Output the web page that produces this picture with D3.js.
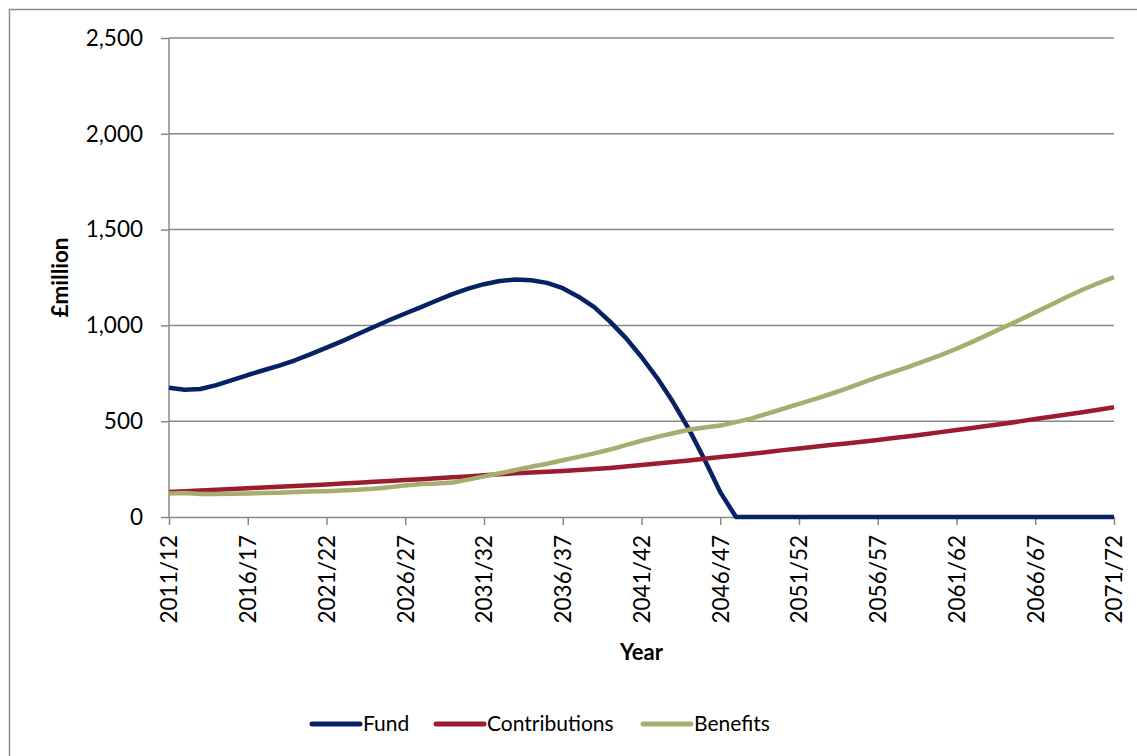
<!DOCTYPE html>
<html>
<head>
<meta charset="utf-8">
<script src="https://cdn.jsdelivr.net/npm/d3@7"></script>
<style>
  html, body { margin: 0; padding: 0; background: #fff; }
  svg { display: block; }
  text { font-family: Lato, "Open Sans", sans-serif; fill: #000; }
</style>
</head>
<body>
<svg id="chart" width="1137" height="756"></svg>
<script>
// Financial years 2011/12 .. 2071/72
const years = d3.range(2011, 2072).map(y => `${y}/${String((y + 1) % 100).padStart(2, "0")}`);

// £ million
const fund = [
  675, 664, 668, 688, 714, 741, 766, 790, 818, 850,
  884, 918, 955, 992, 1028, 1062, 1095, 1130, 1163, 1192,
  1215, 1232, 1239, 1236, 1222, 1194, 1150, 1095, 1020, 935,
  835, 725, 600, 460, 300, 130, 0, 0, 0, 0,
  0, 0, 0, 0, 0, 0, 0, 0, 0, 0,
  0, 0, 0, 0, 0, 0, 0, 0, 0, 0,
  0
];
const contributions = [
  130, 134, 138, 142, 146, 150, 154, 158, 162, 166,
  170, 175, 179, 184, 188, 193, 197, 202, 207, 212,
  218, 223, 228, 232, 236, 240, 245, 250, 256, 263,
  271, 279, 287, 295, 304, 313, 321, 330, 339, 349,
  358, 367, 376, 384, 393, 402, 412, 422, 432, 443,
  454, 465, 476, 487, 499, 511, 523, 535, 547, 560,
  573
];
const benefits = [
  123, 125, 120, 120, 121, 123, 125, 127, 130, 133,
  135, 138, 142, 148, 155, 165, 172, 175, 180, 195,
  212, 228, 245, 262, 278, 296, 314, 332, 352, 375,
  398, 418, 437, 455, 467, 477, 495, 515, 540, 565,
  590, 615, 642, 670, 700, 730, 757, 785, 815, 845,
  878, 914, 952, 990, 1028, 1068, 1108, 1148, 1186, 1220,
  1252
];

const seriesNames = ["Fund", "Contributions", "Benefits"];
const seriesColors = ["#062264", "#9b1c2e", "#a6ad6e"];
const seriesData = [fund, contributions, benefits];
const yTicks = [0, 500, 1000, 1500, 2000, 2500];

const svg = d3.select("#chart");
const plotLeft = 169, plotRight = 1114, plotTop = 38, plotBottom = 517;

// outer chart frame
svg.append("rect")
  .attr("x", 9.5).attr("y", 9.5)
  .attr("width", 2000).attr("height", 2000)
  .attr("fill", "none").attr("stroke", "#8a8a8a").attr("stroke-width", 1.5);

const x = d3.scalePoint().domain(years).range([plotLeft, plotRight]);
const y = d3.scaleLinear().domain([0, 2500]).range([plotBottom, plotTop]);

// horizontal gridlines
svg.append("g").selectAll("line")
  .data(yTicks.filter(d => d > 0))
  .join("line")
  .attr("x1", plotLeft).attr("x2", plotRight)
  .attr("y1", d => y(d)).attr("y2", d => y(d))
  .attr("stroke", "#888").attr("stroke-width", 1.5);

// y axis
const yAxis = svg.append("g")
  .attr("transform", `translate(${plotLeft},0)`)
  .call(d3.axisLeft(y).tickValues(yTicks).tickSize(8).tickPadding(18)
    .tickFormat(d3.format(",")));
yAxis.selectAll("path, line").attr("stroke", "#888").attr("stroke-width", 1.5);
yAxis.select(".domain").attr("d", `M0,${plotTop}V${plotBottom}`);
yAxis.selectAll("text").attr("font-size", 22.5).attr("font-family", "Lato").attr("fill", "#000");

// x axis
const labelYears = years.filter((d, i) => i % 5 === 0);
const xAxis = svg.append("g")
  .attr("transform", `translate(0,${plotBottom})`)
  .call(d3.axisBottom(x).tickValues(labelYears).tickSize(8).tickSizeOuter(0));
xAxis.selectAll("path, line").attr("stroke", "#888").attr("stroke-width", 1.5);
xAxis.selectAll("text")
  .attr("font-size", 22.5).attr("font-family", "Lato").attr("fill", "#000")
  .attr("text-anchor", "end")
  .attr("transform", "rotate(-90)")
  .attr("x", -18).attr("y", 0).attr("dy", "0.35em");

// axis titles
svg.append("text")
  .attr("transform", `translate(60,${(plotTop + plotBottom) / 2}) rotate(-90)`)
  .attr("text-anchor", "middle").attr("dy", "0.35em")
  .attr("font-size", 22.5).attr("font-weight", "bold")
  .text("£million");
svg.append("text")
  .attr("x", (plotLeft + plotRight) / 2).attr("y", 652)
  .attr("text-anchor", "middle").attr("dy", "0.35em")
  .attr("font-size", 22).attr("font-weight", "bold")
  .text("Year");

// series lines
const line = d3.line()
  .x((d, i) => x(years[i]))
  .y(d => y(d));
svg.append("g").selectAll("path")
  .data(seriesData)
  .join("path")
  .attr("d", line)
  .attr("fill", "none")
  .attr("stroke", (d, i) => seriesColors[i])
  .attr("stroke-width", 4.5)
  .attr("stroke-linejoin", "round");

// legend
const legendPos = [312, 436, 643];
const legend = svg.append("g").selectAll("g")
  .data(seriesNames)
  .join("g")
  .attr("transform", (d, i) => `translate(${legendPos[i]},724)`);
legend.append("line")
  .attr("x1", 0).attr("x2", 48)
  .attr("stroke", (d, i) => seriesColors[i])
  .attr("stroke-width", 5).attr("stroke-linecap", "round");
legend.append("text")
  .attr("x", 51).attr("dy", "0.35em")
  .attr("font-size", 21)
  .text(d => d);
</script>
</body>
</html>
